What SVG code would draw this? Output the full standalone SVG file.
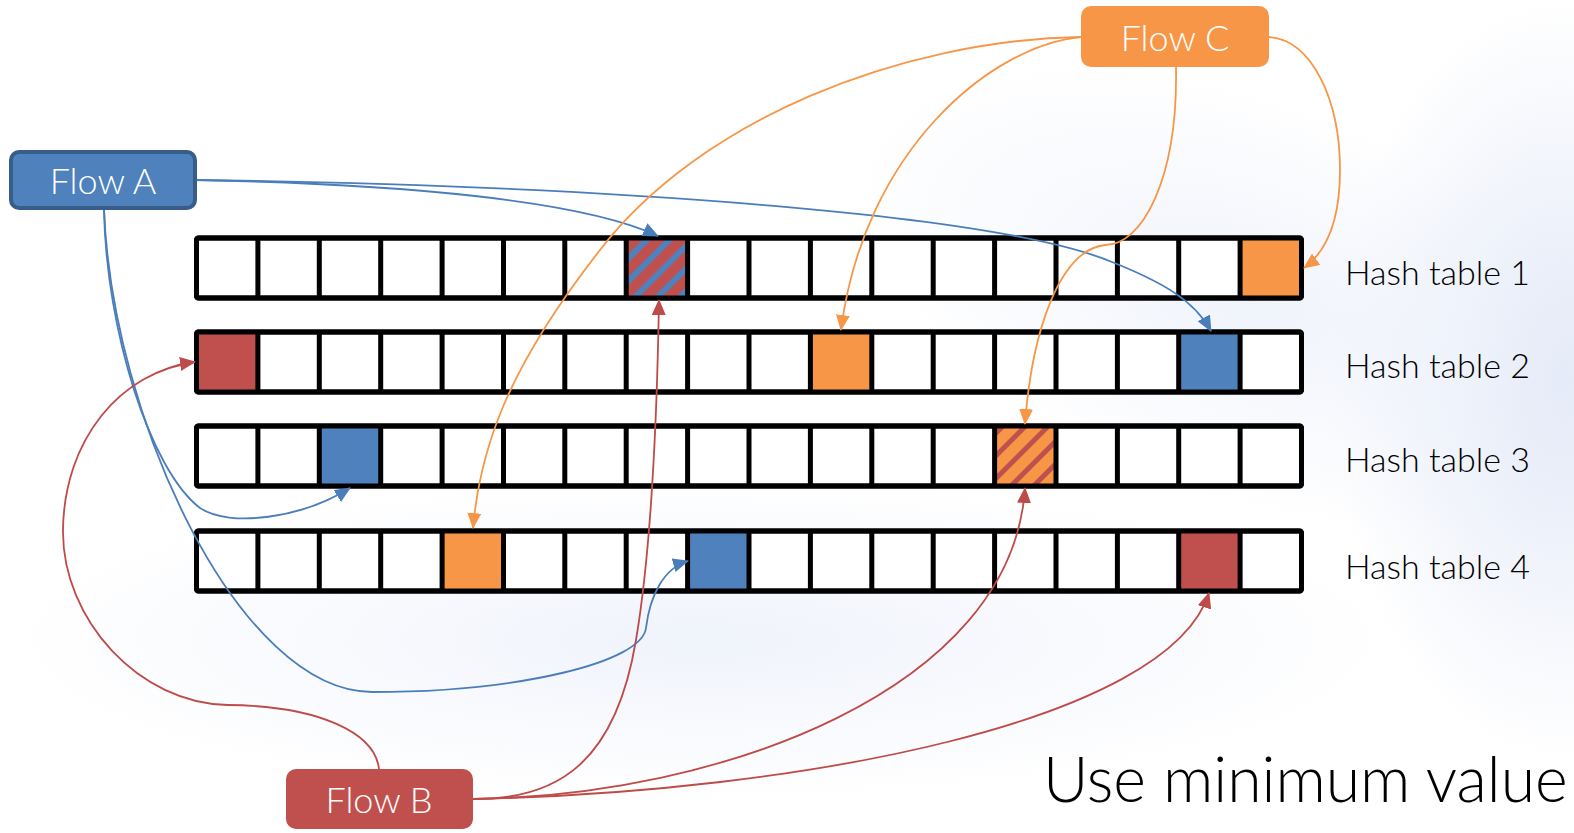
<svg xmlns="http://www.w3.org/2000/svg" width="1574" height="833" viewBox="0 0 1574 833">
  <defs>
    <style>
      .cellrow { fill: #ffffff; stroke: #000000; stroke-width: 5; }
      .frame { fill: none; stroke: #000000; stroke-width: 5; }
      .div { fill: none; stroke: #000000; stroke-width: 5; }
      .lbl { font-family: Lato, "Liberation Sans", sans-serif; font-weight: 300; fill: #000000; }
      .flowtxt { font-family: Lato, "Liberation Sans", sans-serif; font-weight: 300; fill: #ffffff; font-size: 36px; text-anchor: middle; }
      .edge { fill: none; stroke-width: 1.8; }
      .blue { stroke: #4a7ebb; }
      .red { stroke: #be4b48; }
      .orange { stroke: #f79646; }
    </style>
    <radialGradient id="hazeR" cx="0.5" cy="0.5" r="0.5">
      <stop offset="0" stop-color="#dfe6f6" stop-opacity="0.9"/>
      <stop offset="1" stop-color="#dfe6f6" stop-opacity="0"/>
    </radialGradient>
    <radialGradient id="hazeS" cx="0.5" cy="0.5" r="0.5">
      <stop offset="0" stop-color="#eef2fb" stop-opacity="0.9"/>
      <stop offset="1" stop-color="#eef2fb" stop-opacity="0"/>
    </radialGradient>
    <pattern id="hatchAB" width="16" height="16" patternUnits="userSpaceOnUse" patternTransform="rotate(45)">
      <rect width="16" height="16" fill="#c0504d"/>
      <rect x="0" width="6" height="16" fill="#4f81bd"/>
    </pattern>
    <pattern id="hatchCB" width="16" height="16" patternUnits="userSpaceOnUse" patternTransform="rotate(45)">
      <rect width="16" height="16" fill="#f79646"/>
      <rect x="0" width="5" height="16" fill="#c0504d"/>
    </pattern>
    <marker id="arrBlue" markerUnits="userSpaceOnUse" markerWidth="16" markerHeight="14" refX="15" refY="7" orient="auto">
      <path d="M0,0 L16,7 L0,14 z" fill="#4a7ebb"/>
    </marker>
    <marker id="arrRed" markerUnits="userSpaceOnUse" markerWidth="16" markerHeight="14" refX="15" refY="7" orient="auto">
      <path d="M0,0 L16,7 L0,14 z" fill="#be4b48"/>
    </marker>
    <marker id="arrOrange" markerUnits="userSpaceOnUse" markerWidth="16" markerHeight="14" refX="15" refY="7" orient="auto">
      <path d="M0,0 L16,7 L0,14 z" fill="#f79646"/>
    </marker>
  </defs>

  <!-- soft backdrop -->
  <rect width="1574" height="833" fill="#ffffff"/>
  <ellipse cx="1560" cy="380" rx="230" ry="380" fill="url(#hazeR)"/>
  <ellipse cx="1250" cy="300" rx="420" ry="200" fill="url(#hazeS)" transform="rotate(20 1250 300)"/>
  <ellipse cx="700" cy="640" rx="700" ry="160" fill="url(#hazeS)"/>

  <!-- hash table rows: 18 cells each -->
  <g id="hash-table-1">
    <rect class="cellrow" x="196.5" y="238" width="1105" height="60" rx="2"/>
    <rect x="626.2" y="238" width="61.4" height="60" fill="url(#hatchAB)"/>
    <rect x="1240.1" y="238" width="61.4" height="60" fill="#f79646"/>
    <path class="div" d="M257.9,238V298M319.3,238V298M380.7,238V298M442.1,238V298M503.5,238V298M564.8,238V298M626.2,238V298M687.6,238V298M749,238V298M810.4,238V298M871.8,238V298M933.2,238V298M994.6,238V298M1056,238V298M1117.4,238V298M1178.7,238V298M1240.1,238V298"/>
    <rect class="frame" x="196.5" y="238" width="1105" height="60" rx="2"/>
    <text class="lbl" x="1345" y="285" font-size="34">Hash table 1</text>
  </g>

  <g id="hash-table-2">
    <rect class="cellrow" x="196.5" y="332" width="1105" height="60" rx="2"/>
    <rect x="196.5" y="332" width="61.4" height="60" fill="#c0504d"/>
    <rect x="810.4" y="332" width="61.4" height="60" fill="#f79646"/>
    <rect x="1178.7" y="332" width="61.4" height="60" fill="#4f81bd"/>
    <path class="div" d="M257.9,332V392M319.3,332V392M380.7,332V392M442.1,332V392M503.5,332V392M564.8,332V392M626.2,332V392M687.6,332V392M749,332V392M810.4,332V392M871.8,332V392M933.2,332V392M994.6,332V392M1056,332V392M1117.4,332V392M1178.7,332V392M1240.1,332V392"/>
    <rect class="frame" x="196.5" y="332" width="1105" height="60" rx="2"/>
    <text class="lbl" x="1345" y="378" font-size="34">Hash table 2</text>
  </g>

  <g id="hash-table-3">
    <rect class="cellrow" x="196.5" y="426" width="1105" height="60" rx="2"/>
    <rect x="319.3" y="426" width="61.4" height="60" fill="#4f81bd"/>
    <rect x="994.6" y="426" width="61.4" height="60" fill="url(#hatchCB)"/>
    <path class="div" d="M257.9,426V486M319.3,426V486M380.7,426V486M442.1,426V486M503.5,426V486M564.8,426V486M626.2,426V486M687.6,426V486M749,426V486M810.4,426V486M871.8,426V486M933.2,426V486M994.6,426V486M1056,426V486M1117.4,426V486M1178.7,426V486M1240.1,426V486"/>
    <rect class="frame" x="196.5" y="426" width="1105" height="60" rx="2"/>
    <text class="lbl" x="1345" y="472" font-size="34">Hash table 3</text>
  </g>

  <g id="hash-table-4">
    <rect class="cellrow" x="196.5" y="531" width="1105" height="60" rx="2"/>
    <rect x="442.1" y="531" width="61.4" height="60" fill="#f79646"/>
    <rect x="687.6" y="531" width="61.4" height="60" fill="#4f81bd"/>
    <rect x="1178.7" y="531" width="61.4" height="60" fill="#c0504d"/>
    <path class="div" d="M257.9,531V591M319.3,531V591M380.7,531V591M442.1,531V591M503.5,531V591M564.8,531V591M626.2,531V591M687.6,531V591M749,531V591M810.4,531V591M871.8,531V591M933.2,531V591M994.6,531V591M1056,531V591M1117.4,531V591M1178.7,531V591M1240.1,531V591"/>
    <rect class="frame" x="196.5" y="531" width="1105" height="60" rx="2"/>
    <text class="lbl" x="1345" y="579" font-size="34">Hash table 4</text>
  </g>

  <!-- connectors -->
  <g id="connectors">
    <!-- Flow A -->
    <path class="edge blue" d="M196,180 C400,184 582,200 658,236" marker-end="url(#arrBlue)"/>
    <path class="edge blue" d="M196,180 C620,186 1000,215 1112,262 C1162,282 1194,300 1211,331" marker-end="url(#arrBlue)"/>
    <path class="edge blue" d="M104,209 C106,330 150,470 200,508 C230,528 302,518 350,488" marker-end="url(#arrBlue)"/>
    <path class="edge blue" d="M104,209 C112,420 240,692 372,692 C520,692 642,662 646,628 C650,595 664,568 688,561" marker-end="url(#arrBlue)"/>
    <!-- Flow B -->
    <path class="edge red" d="M379,769 C375,733 320,706 228,705 C140,704 62,620 63,530 C64,440 120,372 195,362" marker-end="url(#arrRed)"/>
    <path class="edge red" d="M473,799 C560,800 616,760 636,640 C652,545 657,420 659,300" marker-end="url(#arrRed)"/>
    <path class="edge red" d="M473,799 C720,796 1012,690 1025,488" marker-end="url(#arrRed)"/>
    <path class="edge red" d="M473,799 C800,792 1168,722 1209,593" marker-end="url(#arrRed)"/>
    <!-- Flow C -->
    <path class="edge orange" d="M1081,37 C900,40 700,120 600,250 C506,370 480,450 473,528" marker-end="url(#arrOrange)"/>
    <path class="edge orange" d="M1081,37 C992,45 864,150 841,330" marker-end="url(#arrOrange)"/>
    <path class="edge orange" d="M1176,67 C1178,180 1142,245 1105,245 C1060,250 1032,330 1025,424" marker-end="url(#arrOrange)"/>
    <path class="edge orange" d="M1269,37 C1312,40 1340,100 1340,170 C1340,220 1326,252 1304,268" marker-end="url(#arrOrange)"/>
  </g>

  <!-- flow boxes -->
  <g id="flow-a">
    <rect x="11" y="152" width="184" height="56" rx="8" fill="#4f81bd" stroke="#385d8a" stroke-width="4"/>
    <text class="flowtxt" x="103" y="194">Flow A</text>
  </g>
  <g id="flow-c">
    <rect x="1081" y="6" width="188" height="61" rx="10" fill="#f79646"/>
    <text class="flowtxt" x="1175" y="51">Flow C</text>
  </g>
  <g id="flow-b">
    <rect x="286" y="769" width="187" height="60" rx="10" fill="#c0504d"/>
    <text class="flowtxt" x="379" y="813">Flow B</text>
  </g>

  <text id="caption" class="lbl" x="1043" y="802" font-size="62.5">Use minimum value</text>
</svg>
